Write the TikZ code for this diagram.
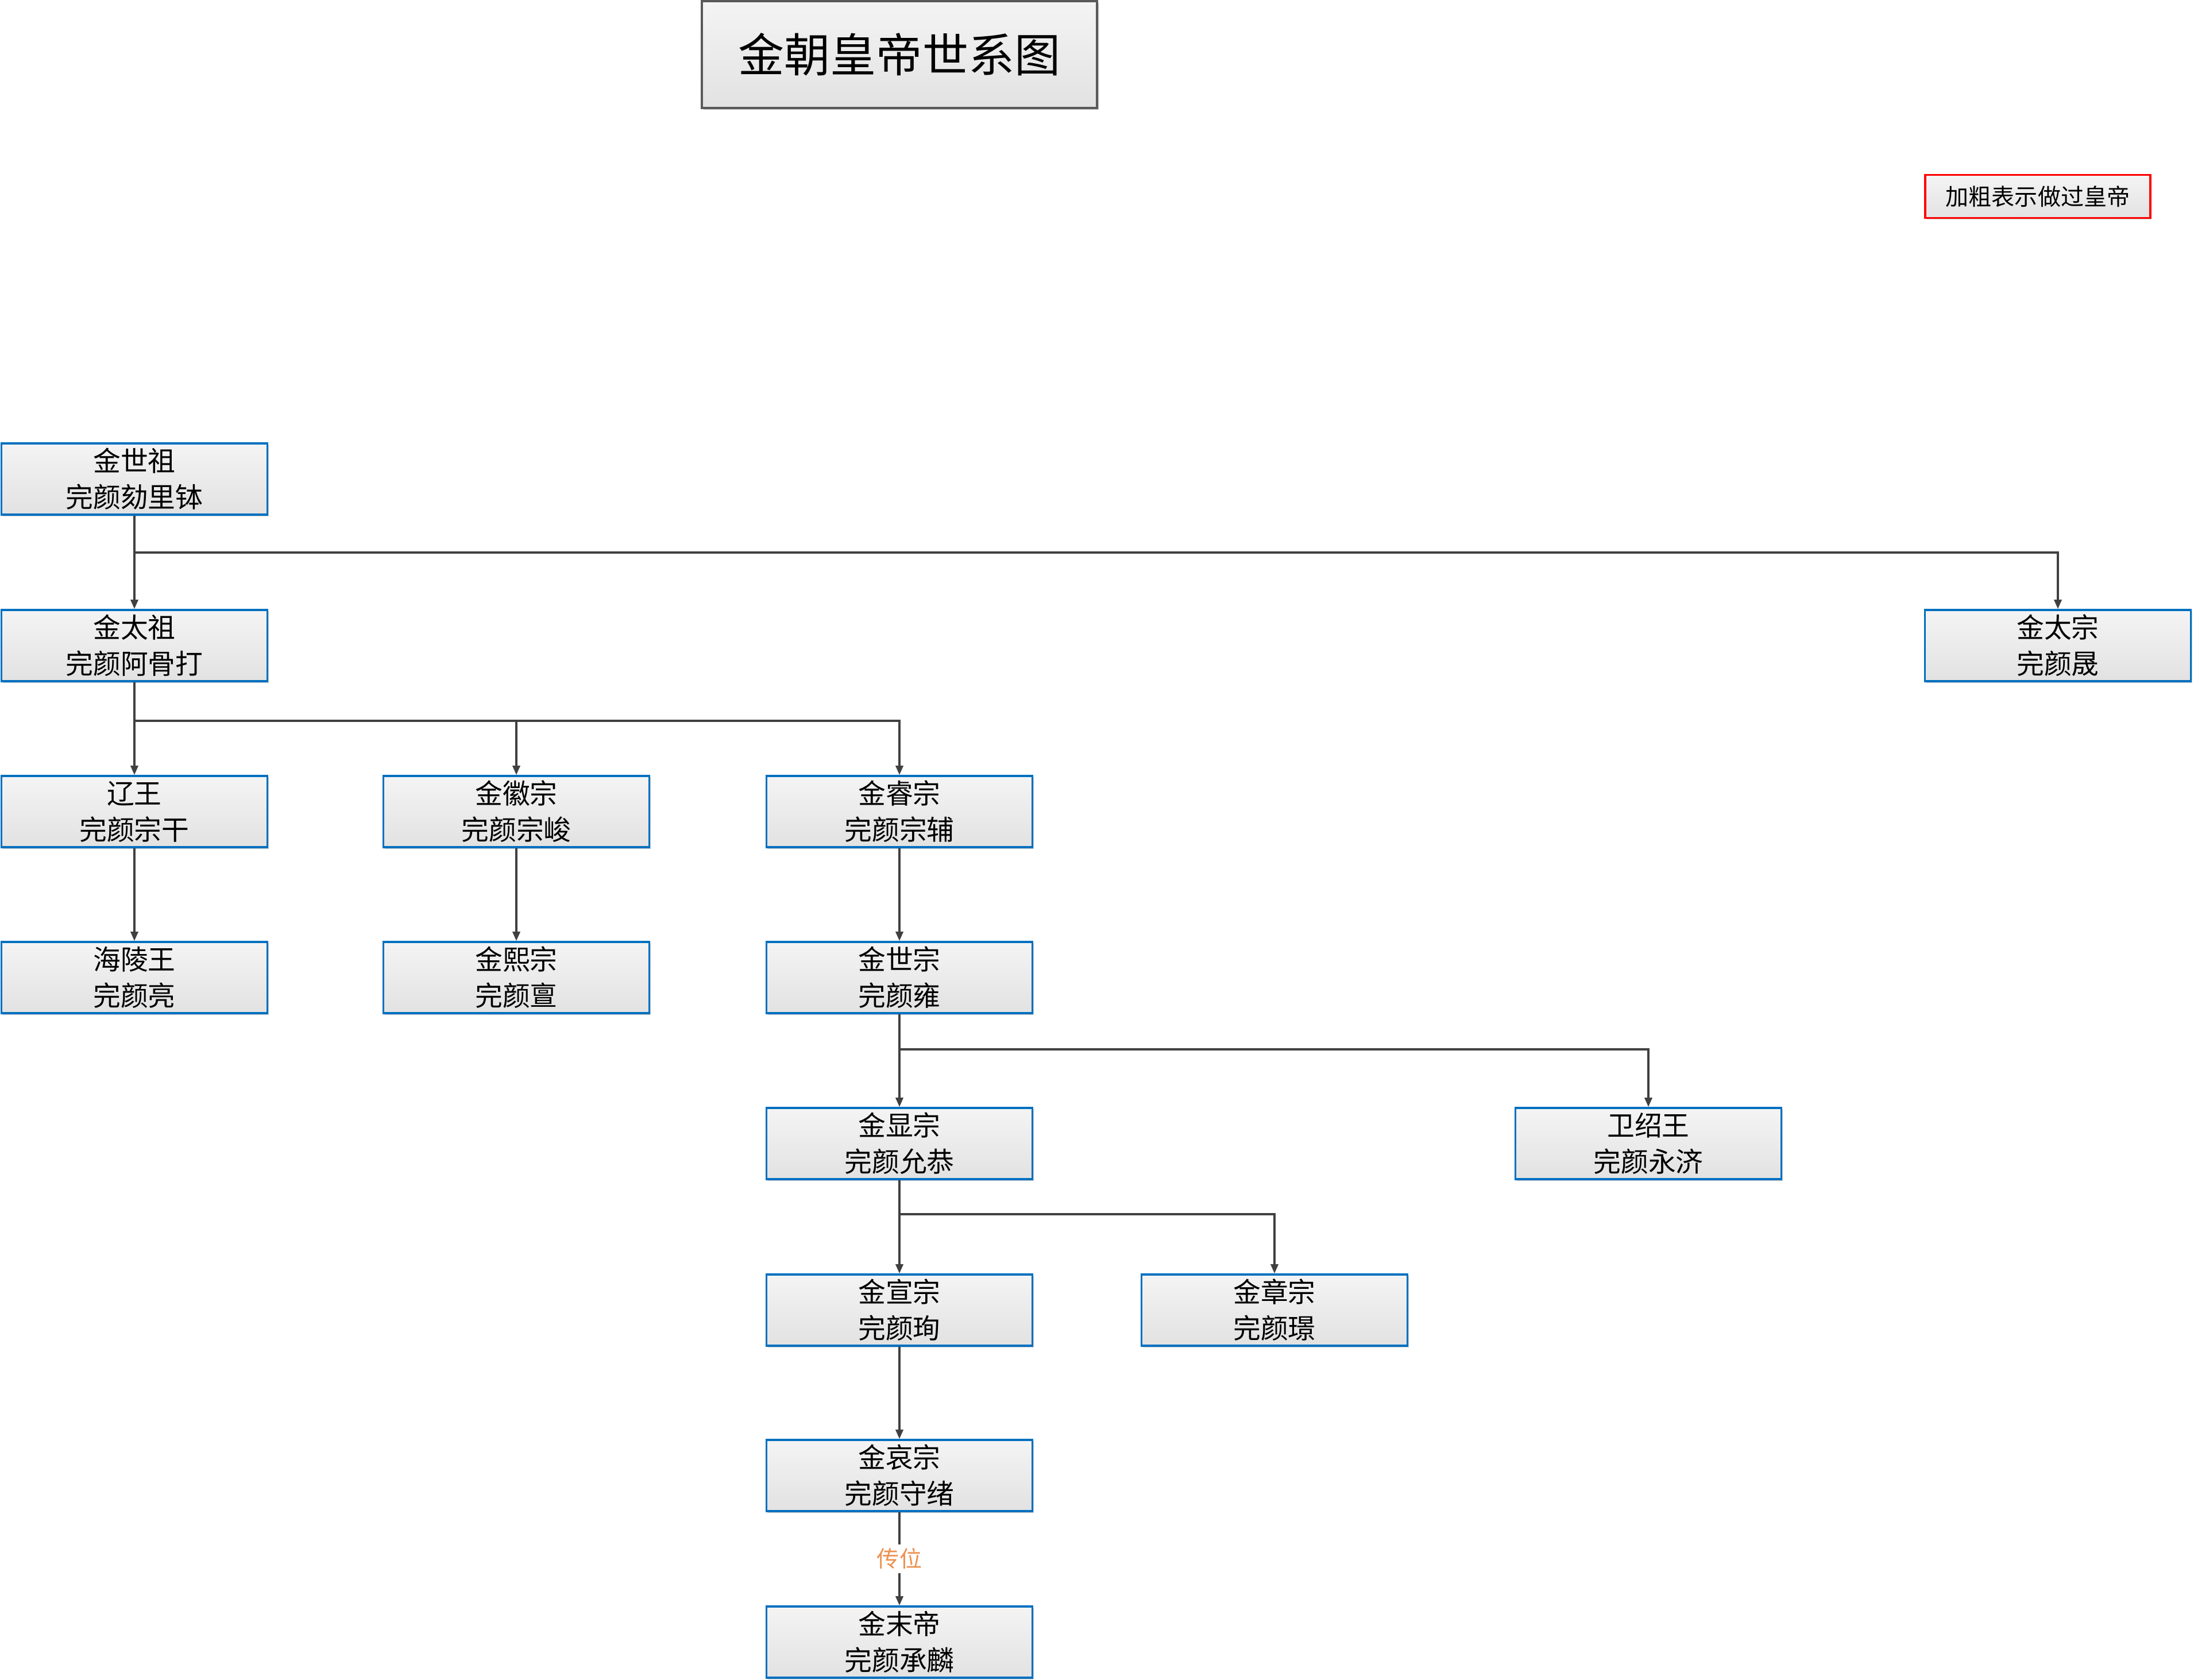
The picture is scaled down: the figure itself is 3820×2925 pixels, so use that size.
\documentclass[tikz,border=0pt]{standalone}
\usepackage{fontspec}
\setmainfont{Noto Sans CJK SC}
\usetikzlibrary{arrows.meta,shadows}
\definecolor{nodeblue}{RGB}{0,112,192}
\definecolor{linegray}{RGB}{64,64,64}
\definecolor{titlegray}{RGB}{90,90,90}
\definecolor{lblorange}{RGB}{238,145,80}
\definecolor{filltop}{RGB}{244,244,244}
\definecolor{fillbot}{RGB}{226,226,226}
\tikzset{
  person/.style={rectangle, draw=nodeblue, line width=1pt, top color=filltop, bottom color=fillbot,
    minimum width=4.63cm, minimum height=1.24cm, inner sep=0pt, align=center,
    font=\fontsize{13.6pt}{17.9pt}\selectfont,
    drop shadow={shadow xshift=0.025cm, shadow yshift=-0.025cm, opacity=0.2, fill=black}},
  titlebox/.style={rectangle, draw=titlegray, line width=1.2pt, top color=filltop, bottom color=fillbot,
    minimum width=6.87cm, minimum height=1.86cm, inner sep=0pt,
    font=\fontsize{22.8pt}{26pt}\selectfont,
    drop shadow={shadow xshift=0.03cm, shadow yshift=-0.03cm, opacity=0.25, fill=black}},
  legendbox/.style={rectangle, draw=red, line width=1.1pt, top color=filltop, bottom color=fillbot,
    minimum width=3.92cm, minimum height=0.75cm, inner sep=0pt,
    font=\fontsize{11.4pt}{13pt}\selectfont,
    drop shadow={shadow xshift=0.02cm, shadow yshift=-0.02cm, opacity=0.2, fill=black}},
  conn/.style={draw=linegray, line width=0.9pt, -{Triangle[length=0.16cm,width=0.13cm]}},
  plain/.style={draw=linegray, line width=0.9pt},
  lbl/.style={fill=white, text=lblorange, inner sep=2pt, font=\fontsize{11.1pt}{13pt}\selectfont}
}
\begin{document}
\begin{tikzpicture}[x=0.01cm, y=-0.01cm]
\useasboundingbox (0,0) rectangle (3820,2925);
% title and legend
\node[titlebox] (title) at (1566,95) {金朝皇帝世系图};
\node[legendbox] (legend) at (3548,342) {加粗表示做过皇帝};
% people
\node[person] (shizu)   at (234,834)  {金世祖\\完颜劾里钵};
\node[person] (taizu)   at (234,1124) {金太祖\\完颜阿骨打};
\node[person] (taizong) at (3583,1124) {金太宗\\完颜晟};
\node[person] (liaowang) at (234,1413) {辽王\\完颜宗干};
\node[person] (huizong) at (899,1413) {金徽宗\\完颜宗峻};
\node[person] (ruizong) at (1566,1413) {金睿宗\\完颜宗辅};
\node[person] (hailing) at (234,1702) {海陵王\\完颜亮};
\node[person] (xizong)  at (899,1702) {金熙宗\\完颜亶};
\node[person] (shizong) at (1566,1702) {金世宗\\完颜雍};
\node[person] (xianzong) at (1566,1991) {金显宗\\完颜允恭};
\node[person] (weishao) at (2870,1991) {卫绍王\\完颜永济};
\node[person] (xuanzong) at (1566,2281) {金宣宗\\完颜珣};
\node[person] (zhangzong) at (2219,2281) {金章宗\\完颜璟};
\node[person] (aizong)  at (1566,2569) {金哀宗\\完颜守绪};
\node[person] (modi)    at (1566,2859) {金末帝\\完颜承麟};
% junctions
\coordinate (j1) at (234,962);
\coordinate (j2) at (234,1255);
\coordinate (j3) at (1566,1827);
\coordinate (j4) at (1566,2114);
% connectors
\draw[conn] (shizu.south) -- (taizu.north);
\draw[conn] (j1) -| (taizong.north);
\draw[conn] (taizu.south) -- (liaowang.north);
\draw[conn] (j2) -| (huizong.north);
\draw[conn] (j2) -| (ruizong.north);
\draw[conn] (liaowang.south) -- (hailing.north);
\draw[conn] (huizong.south) -- (xizong.north);
\draw[conn] (ruizong.south) -- (shizong.north);
\draw[conn] (shizong.south) -- (xianzong.north);
\draw[conn] (j3) -| (weishao.north);
\draw[conn] (xianzong.south) -- (xuanzong.north);
\draw[conn] (j4) -| (zhangzong.north);
\draw[conn] (xuanzong.south) -- (aizong.north);
\draw[conn] (aizong.south) -- node[lbl] (chuanwei) {传位} (modi.north);
\end{tikzpicture}
\end{document}
